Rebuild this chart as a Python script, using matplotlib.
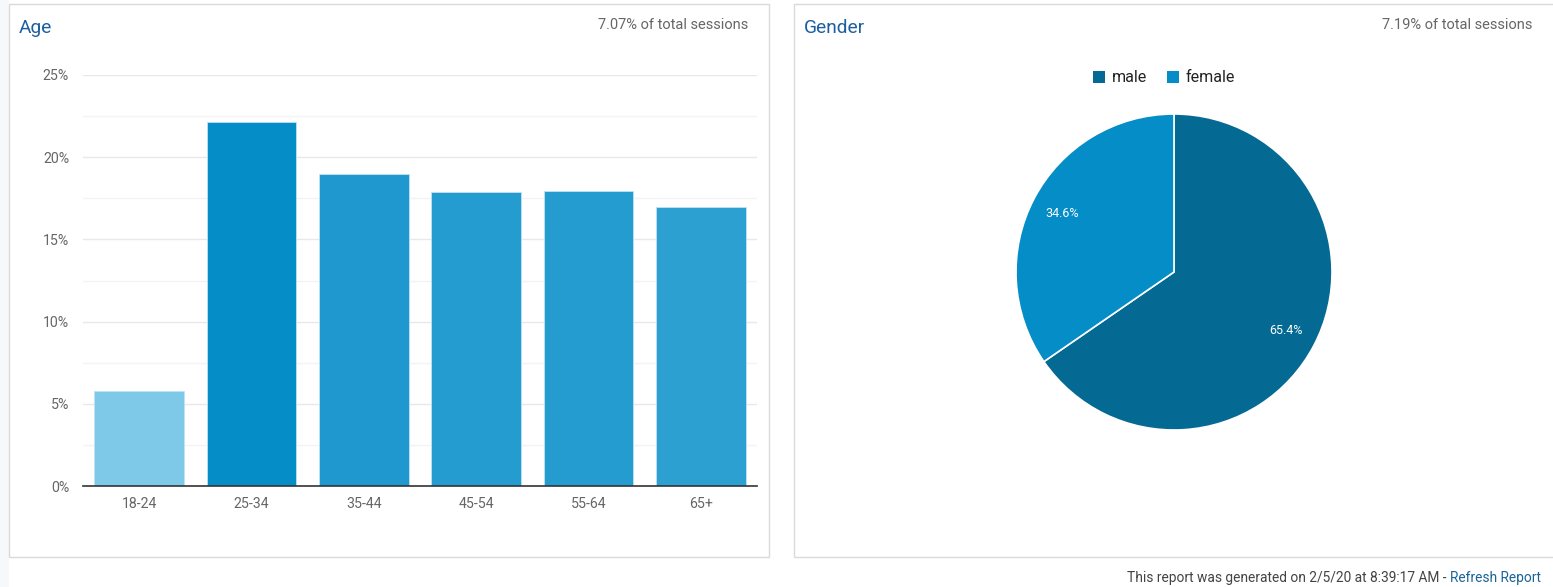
import matplotlib.pyplot as plt
from matplotlib.patches import Rectangle

plt.rcParams['font.family'] = ['Roboto', 'DejaVu Sans']

# Age data (share of sessions, %)
age_groups = ['18-24', '25-34', '35-44', '45-54', '55-64', '65+']
age_share = [5.8, 22.15, 18.95, 17.9, 17.95, 16.97]
age_colors = ['#7fc9e8', '#058dc7', '#1e98cf', '#259ccf', '#259ccf', '#2ba0d1']

# Gender data
genders = ['male', 'female']
gender_share = [65.4, 34.6]
gender_colors = ['#056a93', '#058dc7']

W, H = 1553, 587
fig = plt.figure(figsize=(W / 100, H / 100), dpi=100)
fig.patch.set_facecolor('white')


def px(x, y):
    # pixel coords (from top-left) -> figure fraction
    return x / W, 1 - y / H


# background strip and panel frames (behind the axes)
fig.patches.append(Rectangle((0, 0), 9 / W, 1, transform=fig.transFigure,
                             facecolor='#f6f8fa', edgecolor='none', zorder=-2))
fig.patches.append(Rectangle(px(9, 557), 760 / W, 553 / H, transform=fig.transFigure,
                             facecolor='white', edgecolor='#dadada', lw=1, zorder=-1))
fig.patches.append(Rectangle(px(794, 557), 770 / W, 553 / H, transform=fig.transFigure,
                             facecolor='white', edgecolor='#dadada', lw=1, zorder=-1))

# panel headers
fig.text(*px(19, 28), 'Age', fontsize=13.8, color='#1c5fa0', va='center', ha='left')
fig.text(*px(748, 25), '7.07% of total sessions', fontsize=10.5, color='#666666',
         va='center', ha='right')
fig.text(*px(804, 28), 'Gender', fontsize=13.8, color='#1c5fa0', va='center', ha='left')
fig.text(*px(1532, 25), '7.19% of total sessions', fontsize=10.5, color='#666666',
         va='center', ha='right')

# bar chart
ax = fig.add_axes([83 / W, 1 - 486 / H, 674 / W, 411 / H])
ax.set_facecolor('none')
x = range(len(age_groups))
ax.bar(x, age_share, width=0.8, color=age_colors, edgecolor='#bfe3f3', linewidth=0.6, zorder=3)
ax.set_xlim(-0.5, len(age_groups) - 0.5)
ax.set_ylim(0, 25)
ax.set_yticks([0, 5, 10, 15, 20, 25])
ax.set_yticklabels([f'{v}%' for v in [0, 5, 10, 15, 20, 25]])
ax.set_yticks([2.5, 7.5, 12.5, 17.5, 22.5], minor=True)
ax.grid(axis='y', which='major', color='#e8e8e8', lw=1, zorder=0)
ax.grid(axis='y', which='minor', color='#f3f3f3', lw=1, zorder=0)
ax.set_xticks(list(x))
ax.set_xticklabels(age_groups)
ax.tick_params(axis='both', which='both', length=0, labelsize=10.2, labelcolor='#666666')
ax.tick_params(axis='y', pad=10)
ax.tick_params(axis='x', pad=8)
for s in ['top', 'right', 'left']:
    ax.spines[s].set_visible(False)
ax.spines['bottom'].set_color('#333333')
ax.spines['bottom'].set_linewidth(1.2)
ax.spines['bottom'].set_zorder(4)

# pie chart
r = 158
pax = fig.add_axes([(1174 - r) / W, 1 - (272 + r) / H, 2 * r / W, 2 * r / H])
wedges, _, autotexts = pax.pie(gender_share, colors=gender_colors, startangle=90,
                               counterclock=False, autopct='%1.1f%%', pctdistance=0.8,
                               wedgeprops=dict(edgecolor='white', linewidth=1.2),
                               textprops=dict(color='white', fontsize=9))
pax.set_xlim(-1, 1)
pax.set_ylim(-1, 1)
pax.set_aspect('equal')

# legend
for i, (name, col) in enumerate(zip(genders, gender_colors)):
    lx = [1093, 1167][i]
    fig.patches.append(Rectangle(px(lx, 83), 12 / W, 12 / H, transform=fig.transFigure,
                                 facecolor=col, edgecolor='none'))
    fig.text(*px(lx + 19, 77), name, fontsize=11.5, color='#222222', va='center', ha='left')

# footer
t2 = fig.text(*px(1541, 578), 'Refresh Report', fontsize=9.9, color='#1a6496',
              va='center', ha='right')
fig.canvas.draw()
bb = t2.get_window_extent()
fig.text(bb.x0 / W, 1 - 578 / H, 'This report was generated on 2/5/20 at 8:39:17 AM - ',
         fontsize=9.9, color='#444444', va='center', ha='right')

fig.savefig('out.png', dpi=100)
